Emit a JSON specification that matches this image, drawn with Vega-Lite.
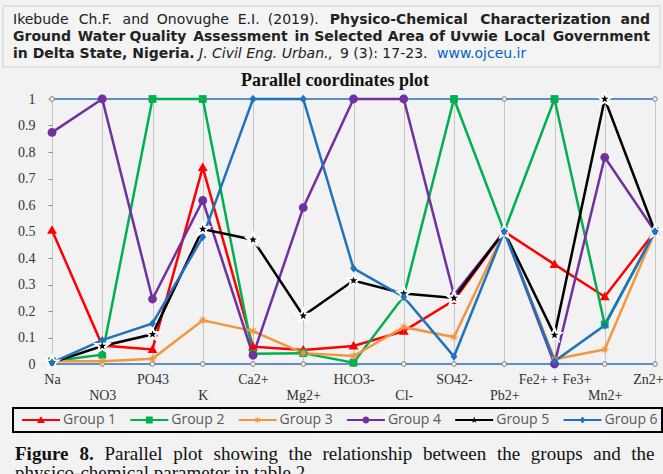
{
 "$schema": "https://vega.github.io/schema/vega-lite/v6.json",
 "width": 603, "height": 265,
 "autosize": {"type": "none"},
 "padding": {"left": 52, "top": 99, "right": 8, "bottom": 110},
 "background": "#f2f2f2",
 "config": {"view": {"stroke": null},
   "text": {"font": "DejaVu Sans", "fontSize": 14, "baseline": "alphabetic", "color": "#222222"},
   "axisX": {"grid": true, "gridColor": "#c6c6c6", "gridWidth": 1, "domain": false, "ticks": false, "labelAngle": 0, "labelFont": "Liberation Serif", "labelFontSize": 14, "labelColor": "#333333", "labelPadding": 8, "labelLineHeight": 16},
   "axisY": {"grid": false, "domain": false, "ticks": true, "tickSize": 4, "tickColor": "#8c8c8c", "labelFont": "Liberation Serif", "labelFontSize": 14, "labelColor": "#333333", "labelPadding": 13, "labelOverlap": false}
 },
 "datasets": {
  "d": [
   {"g":"Group 1","c":"Na","v":0.505},{"g":"Group 1","c":"NO3","v":0.07},{"g":"Group 1","c":"PO43","v":0.055},{"g":"Group 1","c":"K","v":0.742},{"g":"Group 1","c":"Ca2+","v":0.065},{"g":"Group 1","c":"Mg2+","v":0.053},{"g":"Group 1","c":"HCO3-","v":0.068},{"g":"Group 1","c":"Cl-","v":0.124},{"g":"Group 1","c":"SO42-","v":0.24},{"g":"Group 1","c":"Pb2+","v":0.5},{"g":"Group 1","c":"Fe2+ + Fe3+","v":0.376},{"g":"Group 1","c":"Mn2+","v":0.254},{"g":"Group 1","c":"Zn2+","v":0.5},
   {"g":"Group 2","c":"Na","v":0.01},{"g":"Group 2","c":"NO3","v":0.035},{"g":"Group 2","c":"PO43","v":1},{"g":"Group 2","c":"K","v":1},{"g":"Group 2","c":"Ca2+","v":0.039},{"g":"Group 2","c":"Mg2+","v":0.041},{"g":"Group 2","c":"HCO3-","v":0.005},{"g":"Group 2","c":"Cl-","v":0.256},{"g":"Group 2","c":"SO42-","v":1},{"g":"Group 2","c":"Pb2+","v":0.5},{"g":"Group 2","c":"Fe2+ + Fe3+","v":1},{"g":"Group 2","c":"Mn2+","v":0.149},{"g":"Group 2","c":"Zn2+","v":0.5},
   {"g":"Group 3","c":"Na","v":0.01},{"g":"Group 3","c":"NO3","v":0.01},{"g":"Group 3","c":"PO43","v":0.02},{"g":"Group 3","c":"K","v":0.165},{"g":"Group 3","c":"Ca2+","v":0.124},{"g":"Group 3","c":"Mg2+","v":0.041},{"g":"Group 3","c":"HCO3-","v":0.03},{"g":"Group 3","c":"Cl-","v":0.139},{"g":"Group 3","c":"SO42-","v":0.102},{"g":"Group 3","c":"Pb2+","v":0.5},{"g":"Group 3","c":"Fe2+ + Fe3+","v":0.018},{"g":"Group 3","c":"Mn2+","v":0.055},{"g":"Group 3","c":"Zn2+","v":0.5},
   {"g":"Group 4","c":"Na","v":0.874},{"g":"Group 4","c":"NO3","v":1},{"g":"Group 4","c":"PO43","v":0.245},{"g":"Group 4","c":"K","v":0.617},{"g":"Group 4","c":"Ca2+","v":0.033},{"g":"Group 4","c":"Mg2+","v":0.59},{"g":"Group 4","c":"HCO3-","v":1},{"g":"Group 4","c":"Cl-","v":1},{"g":"Group 4","c":"SO42-","v":0.26},{"g":"Group 4","c":"Pb2+","v":0.5},{"g":"Group 4","c":"Fe2+ + Fe3+","v":0},{"g":"Group 4","c":"Mn2+","v":0.78},{"g":"Group 4","c":"Zn2+","v":0.5},
   {"g":"Group 5","c":"Na","v":0.005},{"g":"Group 5","c":"NO3","v":0.068},{"g":"Group 5","c":"PO43","v":0.112},{"g":"Group 5","c":"K","v":0.509},{"g":"Group 5","c":"Ca2+","v":0.469},{"g":"Group 5","c":"Mg2+","v":0.182},{"g":"Group 5","c":"HCO3-","v":0.315},{"g":"Group 5","c":"Cl-","v":0.266},{"g":"Group 5","c":"SO42-","v":0.249},{"g":"Group 5","c":"Pb2+","v":0.5},{"g":"Group 5","c":"Fe2+ + Fe3+","v":0.109},{"g":"Group 5","c":"Mn2+","v":1},{"g":"Group 5","c":"Zn2+","v":0.5},
   {"g":"Group 6","c":"Na","v":0.005},{"g":"Group 6","c":"NO3","v":0.09},{"g":"Group 6","c":"PO43","v":0.153},{"g":"Group 6","c":"K","v":0.479},{"g":"Group 6","c":"Ca2+","v":1},{"g":"Group 6","c":"Mg2+","v":1},{"g":"Group 6","c":"HCO3-","v":0.361},{"g":"Group 6","c":"Cl-","v":0.253},{"g":"Group 6","c":"SO42-","v":0.028},{"g":"Group 6","c":"Pb2+","v":0.5},{"g":"Group 6","c":"Fe2+ + Fe3+","v":0.01},{"g":"Group 6","c":"Mn2+","v":0.146},{"g":"Group 6","c":"Zn2+","v":0.5}
  ],
  "b": [{"b": 0}, {"b": 1}]
 },
 "layer": [
  {"data": {"values": [{}]}, "mark": {"type": "rect", "x": -49, "x2": 608, "y": -93, "y2": -32, "fill": "#f4f4f4", "stroke": "#d0d0d0", "strokeWidth": 1}, "encoding": {}},
  {"data": {"values": [{}]}, "mark": {"type": "text", "text": "Ikebude", "x": -39, "y": -75, "align": "left"}, "encoding": {}},
  {"data": {"values": [{}]}, "mark": {"type": "text", "text": "Ch.F.", "x": 43.35, "y": -75, "align": "center"}, "encoding": {}},
  {"data": {"values": [{}]}, "mark": {"type": "text", "text": "and", "x": 83.75, "y": -75, "align": "center"}, "encoding": {}},
  {"data": {"values": [{}]}, "mark": {"type": "text", "text": "Onovughe", "x": 140.85, "y": -75, "align": "center"}, "encoding": {}},
  {"data": {"values": [{}]}, "mark": {"type": "text", "text": "E.I.", "x": 196.65, "y": -75, "align": "center"}, "encoding": {}},
  {"data": {"values": [{}]}, "mark": {"type": "text", "text": "(2019).", "x": 241.3, "y": -75, "align": "center"}, "encoding": {}},
  {"data": {"values": [{}]}, "mark": {"type": "text", "text": "Physico-Chemical", "x": 346.75, "y": -75, "align": "center", "fontWeight": "bold"}, "encoding": {}},
  {"data": {"values": [{}]}, "mark": {"type": "text", "text": "Characterization", "x": 493.6, "y": -75, "align": "center", "fontWeight": "bold"}, "encoding": {}},
  {"data": {"values": [{}]}, "mark": {"type": "text", "text": "and", "x": 598, "y": -75, "align": "right", "fontWeight": "bold"}, "encoding": {}},
  {"data": {"values": [{}]}, "mark": {"type": "text", "text": "Ground", "x": -39, "y": -58, "align": "left", "fontWeight": "bold"}, "encoding": {}},
  {"data": {"values": [{}]}, "mark": {"type": "text", "text": "Water", "x": 49.55, "y": -58, "align": "center", "fontWeight": "bold"}, "encoding": {}},
  {"data": {"values": [{}]}, "mark": {"type": "text", "text": "Quality", "x": 105.9, "y": -58, "align": "center", "fontWeight": "bold"}, "encoding": {}},
  {"data": {"values": [{}]}, "mark": {"type": "text", "text": "Assessment", "x": 188.4, "y": -58, "align": "center", "fontWeight": "bold"}, "encoding": {}},
  {"data": {"values": [{}]}, "mark": {"type": "text", "text": "in", "x": 249.85, "y": -58, "align": "center", "fontWeight": "bold"}, "encoding": {}},
  {"data": {"values": [{}]}, "mark": {"type": "text", "text": "Selected", "x": 296.35, "y": -58, "align": "center", "fontWeight": "bold"}, "encoding": {}},
  {"data": {"values": [{}]}, "mark": {"type": "text", "text": "Area", "x": 354.05, "y": -58, "align": "center", "fontWeight": "bold"}, "encoding": {}},
  {"data": {"values": [{}]}, "mark": {"type": "text", "text": "of", "x": 385.15, "y": -58, "align": "center", "fontWeight": "bold"}, "encoding": {}},
  {"data": {"values": [{}]}, "mark": {"type": "text", "text": "Uvwie", "x": 421.9, "y": -58, "align": "center", "fontWeight": "bold"}, "encoding": {}},
  {"data": {"values": [{}]}, "mark": {"type": "text", "text": "Local", "x": 472.65, "y": -58, "align": "center", "fontWeight": "bold"}, "encoding": {}},
  {"data": {"values": [{}]}, "mark": {"type": "text", "text": "Government", "x": 598, "y": -58, "align": "right", "fontWeight": "bold"}, "encoding": {}},
  {"data": {"values": [{}]}, "mark": {"type": "text", "text": "in Delta State, Nigeria.", "x": -39, "y": -41, "align": "left", "fontWeight": "bold"}, "encoding": {}},
  {"data": {"values": [{}]}, "mark": {"type": "text", "text": "J. Civil Eng. Urban.,", "x": 147, "y": -41, "align": "left", "fontStyle": "italic"}, "encoding": {}},
  {"data": {"values": [{}]}, "mark": {"type": "text", "text": "9 (3): 17-23.", "x": 288, "y": -41, "align": "left"}, "encoding": {}},
  {"data": {"values": [{}]}, "mark": {"type": "text", "text": "www.ojceu.ir", "x": 385, "y": -41, "align": "left", "color": "#0563c1"}, "encoding": {}},
  {"data": {"values": [{}]}, "mark": {"type": "rule", "x": 385, "x2": 474, "y": -39, "y2": -39, "color": "#0563c1", "strokeWidth": 1}, "encoding": {}},
  {"data": {"values": [{}]}, "mark": {"type": "text", "text": "Parallel coordinates plot", "x": 283, "y": -13, "align": "center", "font": "Liberation Serif", "fontSize": 18, "fontWeight": "bold", "color": "#111111"}, "encoding": {}},
  {"data": {"name": "b"}, "mark": {"type": "rule", "color": "#2a6ebb", "strokeWidth": 1.5},
   "encoding": {"y": {"field": "b", "type": "quantitative", "scale": {"domain": [0, 1], "nice": false}, "axis": {"title": null, "values": [0,0.1,0.2,0.3,0.4,0.5,0.6,0.7,0.8,0.9,1], "format": "~g"}}}},
  {"data": {"name": "d"}, "transform": [{"aggregate": [{"op": "count", "as": "n"}], "groupby": ["c"]}],
   "mark": {"type": "point", "filled": true, "fill": "#efefef", "stroke": "#808080", "strokeWidth": 1, "size": 22, "opacity": 1},
   "encoding": {"x": {"field": "c", "type": "ordinal", "sort": ["Na","NO3","PO43","K","Ca2+","Mg2+","HCO3-","Cl-","SO42-","Pb2+","Fe2+ + Fe3+","Mn2+","Zn2+"], "scale": {"type": "point", "padding": 0},
      "axis": {"title": null, "labelExpr": "indexof(['NO3','K','Mg2+','Cl-','Pb2+','Mn2+'], datum.value) >= 0 ? ['', datum.value] : datum.value", "labelOffset": {"condition": {"test": "datum.value === 'Zn2+'", "value": -7}, "value": 0}}},
    "y": {"datum": 0, "type": "quantitative", "axis": {"title": null, "values": [0,0.1,0.2,0.3,0.4,0.5,0.6,0.7,0.8,0.9,1], "format": "~g"}}}},
  {"data": {"name": "d"}, "transform": [{"aggregate": [{"op": "count", "as": "n"}], "groupby": ["c"]}],
   "mark": {"type": "point", "filled": true, "fill": "#efefef", "stroke": "#808080", "strokeWidth": 1, "size": 22, "opacity": 1},
   "encoding": {"x": {"field": "c", "type": "ordinal", "sort": ["Na","NO3","PO43","K","Ca2+","Mg2+","HCO3-","Cl-","SO42-","Pb2+","Fe2+ + Fe3+","Mn2+","Zn2+"], "scale": {"type": "point", "padding": 0},
      "axis": {"title": null, "labelExpr": "indexof(['NO3','K','Mg2+','Cl-','Pb2+','Mn2+'], datum.value) >= 0 ? ['', datum.value] : datum.value", "labelOffset": {"condition": {"test": "datum.value === 'Zn2+'", "value": -7}, "value": 0}}},
    "y": {"datum": 1, "type": "quantitative", "axis": {"title": null, "values": [0,0.1,0.2,0.3,0.4,0.5,0.6,0.7,0.8,0.9,1], "format": "~g"}}}},
  {"data": {"name": "d"}, "mark": {"type": "line", "strokeWidth": 2.5},
   "encoding": {
    "x": {"field": "c", "type": "ordinal", "sort": ["Na","NO3","PO43","K","Ca2+","Mg2+","HCO3-","Cl-","SO42-","Pb2+","Fe2+ + Fe3+","Mn2+","Zn2+"], "scale": {"type": "point", "padding": 0},
      "axis": {"title": null, "labelExpr": "indexof(['NO3','K','Mg2+','Cl-','Pb2+','Mn2+'], datum.value) >= 0 ? ['', datum.value] : datum.value", "labelOffset": {"condition": {"test": "datum.value === 'Zn2+'", "value": -7}, "value": 0}}},
    "y": {"field": "v", "type": "quantitative", "scale": {"domain": [0, 1], "nice": false}, "axis": {"title": null, "values": [0,0.1,0.2,0.3,0.4,0.5,0.6,0.7,0.8,0.9,1], "format": "~g"}},
    "color": {"field": "g", "type": "nominal", "scale": {"domain": ["Group 1","Group 2","Group 3","Group 4","Group 5","Group 6"], "range": ["#ff0000","#00b050","#f29640","#7030a0","#000000","#1f72bd"]}, "legend": null}
   }},
  {"data": {"name": "d"}, "mark": {"type": "point", "filled": true, "size": 2704, "stroke": "white", "opacity": 1},
   "encoding": {
    "x": {"field": "c", "type": "ordinal", "sort": ["Na","NO3","PO43","K","Ca2+","Mg2+","HCO3-","Cl-","SO42-","Pb2+","Fe2+ + Fe3+","Mn2+","Zn2+"], "scale": {"type": "point", "padding": 0},
      "axis": {"title": null, "labelExpr": "indexof(['NO3','K','Mg2+','Cl-','Pb2+','Mn2+'], datum.value) >= 0 ? ['', datum.value] : datum.value", "labelOffset": {"condition": {"test": "datum.value === 'Zn2+'", "value": -7}, "value": 0}}},
    "y": {"field": "v", "type": "quantitative", "axis": {"title": null, "values": [0,0.1,0.2,0.3,0.4,0.5,0.6,0.7,0.8,0.9,1], "format": "~g"}},
    "color": {"field": "g", "type": "nominal", "scale": {"domain": ["Group 1","Group 2","Group 3","Group 4","Group 5","Group 6"], "range": ["#ff0000","#00b050","#f29640","#7030a0","#000000","#1f72bd"]}, "legend": null},
    "shape": {"field": "g", "type": "nominal", "scale": {"domain": ["Group 1","Group 2","Group 3","Group 4","Group 5","Group 6"], "range": [
       "M0,-0.19L0.19,0.14L-0.19,0.14Z",
       "M-0.15,-0.15H0.15V0.15H-0.15Z",
       "M0,-0.2L0.027,-0.065L0.141,-0.141L0.065,-0.027L0.2,0L0.065,0.027L0.141,0.141L0.027,0.065L0,0.2L-0.027,0.065L-0.141,0.141L-0.065,0.027L-0.2,0L-0.065,-0.027L-0.141,-0.141L-0.027,-0.065Z",
       "M-0.17,0A0.17,0.17,0,1,1,0.17,0A0.17,0.17,0,1,1,-0.17,0Z",
       "M0,-0.27L0.065,-0.089L0.257,-0.083L0.105,0.034L0.159,0.218L0,0.11L-0.159,0.218L-0.105,0.034L-0.257,-0.083L-0.065,-0.089Z",
       "M0,-0.16L0.13,0L0,0.16L-0.13,0Z"]}, "legend": null},
    "strokeWidth": {"condition": {"test": "datum.g === 'Group 5'", "value": 2}, "value": 0}
   }},
  {"data": {"name": "d"}, "transform": [{"filter": "false"}],
   "mark": {"type": "point", "filled": true, "opacity": 1},
   "encoding": {
    "color": {"field": "g", "type": "nominal", "scale": {"domain": ["Group 1","Group 2","Group 3","Group 4","Group 5","Group 6"], "range": ["#ff0000","#00b050","#f29640","#7030a0","#000000","#1f72bd"]},
      "legend": {"orient": "none", "legendX": -30, "legendY": 302, "direction": "horizontal", "title": null, "padding": 0, "symbolSize": 1444, "symbolStrokeWidth": 0, "labelFont": "Open Sans", "labelFontSize": 14, "labelColor": "#595959", "labelOffset": 3, "columnPadding": 13.3}},
    "shape": {"field": "g", "type": "nominal", "scale": {"domain": ["Group 1","Group 2","Group 3","Group 4","Group 5","Group 6"], "range": [
       "M-1,-0.053H1V0.053H-1Z M0,-0.2L0.21,0.16L-0.21,0.16Z",
       "M-1,-0.053H1V0.053H-1Z M-0.18,-0.18H0.18V0.18H-0.18Z",
       "M-1,-0.053H1V0.053H-1Z M0,-0.22L0.03,-0.072L0.155,-0.155L0.072,-0.03L0.22,0L0.072,0.03L0.155,0.155L0.03,0.072L0,0.22L-0.03,0.072L-0.155,0.155L-0.072,0.03L-0.22,0L-0.072,-0.03L-0.155,-0.155L-0.03,-0.072Z",
       "M-1,-0.053H1V0.053H-1Z M-0.18,0A0.18,0.18,0,1,1,0.18,0A0.18,0.18,0,1,1,-0.18,0Z",
       "M-1,-0.053H1V0.053H-1Z M0,-0.18L0.043,-0.059L0.171,-0.056L0.07,0.023L0.106,0.145L0,0.073L-0.106,0.145L-0.07,0.023L-0.171,-0.056L-0.043,-0.059Z",
       "M-1,-0.053H1V0.053H-1Z M0,-0.18L0.15,0L0,0.18L-0.15,0Z"]},
      "legend": {"orient": "none", "legendX": -30, "legendY": 302, "direction": "horizontal", "title": null, "padding": 0, "symbolSize": 1444, "symbolStrokeWidth": 0, "labelFont": "Open Sans", "labelFontSize": 14, "labelColor": "#595959", "labelOffset": 3, "columnPadding": 13.3}}
   }},
  {"data": {"values": [{}]}, "mark": {"type": "rect", "x": -39, "x2": 610, "y": 309, "y2": 333, "fill": null, "stroke": "#000000", "strokeWidth": 2}, "encoding": {}},
  {"data": {"values": [{}]}, "mark": {"type": "text", "text": "Figure", "x": -37, "y": 360.5, "align": "left", "font": "Liberation Serif", "fontSize": 19, "fontWeight": "bold", "color": "#111111"}, "encoding": {}},
  {"data": {"values": [{}]}, "mark": {"type": "text", "text": "8.", "x": 27.5, "y": 360.5, "align": "left", "font": "Liberation Serif", "fontSize": 19, "fontWeight": "bold", "color": "#111111"}, "encoding": {}},
  {"data": {"values": [{}]}, "mark": {"type": "text", "text": "Parallel", "x": 52.5, "y": 360.5, "align": "left", "font": "Liberation Serif", "fontSize": 19, "color": "#111111"}, "encoding": {}},
  {"data": {"values": [{}]}, "mark": {"type": "text", "text": "plot", "x": 121.2, "y": 360.5, "align": "left", "font": "Liberation Serif", "fontSize": 19, "color": "#111111"}, "encoding": {}},
  {"data": {"values": [{}]}, "mark": {"type": "text", "text": "showing", "x": 161.5, "y": 360.5, "align": "left", "font": "Liberation Serif", "fontSize": 19, "color": "#111111"}, "encoding": {}},
  {"data": {"values": [{}]}, "mark": {"type": "text", "text": "the", "x": 236.6, "y": 360.5, "align": "left", "font": "Liberation Serif", "fontSize": 19, "color": "#111111"}, "encoding": {}},
  {"data": {"values": [{}]}, "mark": {"type": "text", "text": "relationship", "x": 270.5, "y": 360.5, "align": "left", "font": "Liberation Serif", "fontSize": 19, "color": "#111111"}, "encoding": {}},
  {"data": {"values": [{}]}, "mark": {"type": "text", "text": "between", "x": 370.9, "y": 360.5, "align": "left", "font": "Liberation Serif", "fontSize": 19, "color": "#111111"}, "encoding": {}},
  {"data": {"values": [{}]}, "mark": {"type": "text", "text": "the", "x": 444.9, "y": 360.5, "align": "left", "font": "Liberation Serif", "fontSize": 19, "color": "#111111"}, "encoding": {}},
  {"data": {"values": [{}]}, "mark": {"type": "text", "text": "groups", "x": 478.8, "y": 360.5, "align": "left", "font": "Liberation Serif", "fontSize": 19, "color": "#111111"}, "encoding": {}},
  {"data": {"values": [{}]}, "mark": {"type": "text", "text": "and", "x": 541.2, "y": 360.5, "align": "left", "font": "Liberation Serif", "fontSize": 19, "color": "#111111"}, "encoding": {}},
  {"data": {"values": [{}]}, "mark": {"type": "text", "text": "the", "x": 602.5, "y": 360.5, "align": "right", "font": "Liberation Serif", "fontSize": 19, "color": "#111111"}, "encoding": {}},
  {"data": {"values": [{}]}, "mark": {"type": "text", "text": "physico-chemical parameter in table 2.", "x": -37, "y": 380, "align": "left", "font": "Liberation Serif", "fontSize": 19, "color": "#111111"}, "encoding": {}}
 ],
 "resolve": {"scale": {"color": "independent", "shape": "independent"}}
}
